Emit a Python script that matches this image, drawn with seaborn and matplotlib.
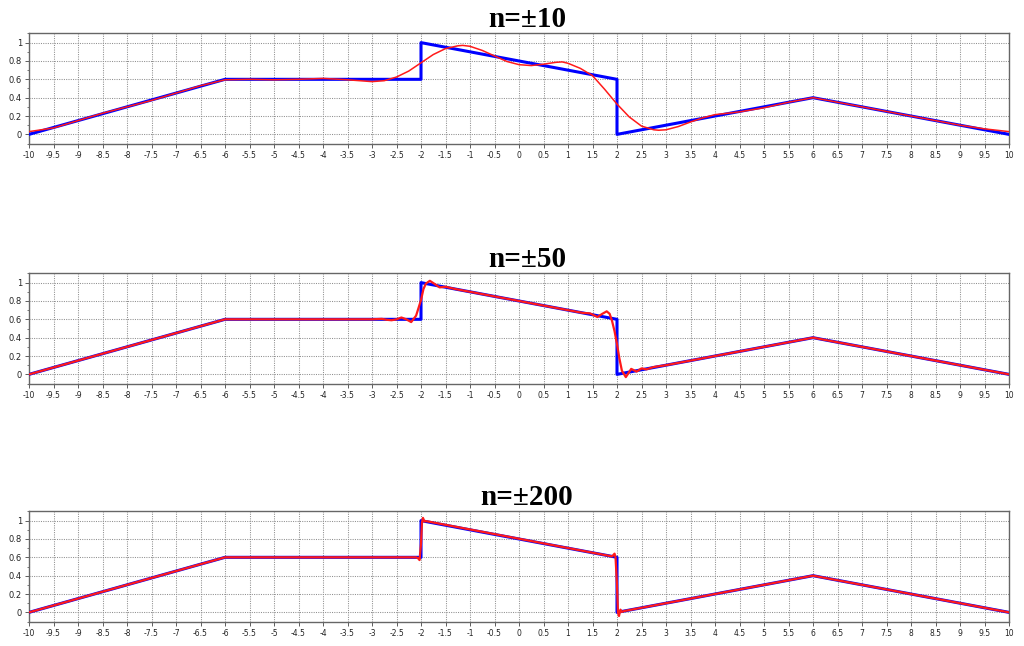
import matplotlib
matplotlib.use("Agg")
import matplotlib.pyplot as plt
import seaborn as sns
import numpy as np
import pandas as pd

# ---- data ----
blue_x = [-10, -6, -2, -2, 2, 2, 6, 10]
blue_y = [0, 0.6, 0.6, 1.0, 0.6, 0.0, 0.4, 0.0]

red10_x = [-10, -9.5, -9, -8.5, -8, -7.5, -7, -6.5, -6, -5.5, -5, -4.5, -4, -3.5, -3,
           -2.75, -2.5, -2.25, -2, -1.75, -1.5, -1.25, -1.15, -1, -0.75, -0.5, -0.25, 0,
           0.25, 0.5, 0.75, 0.88, 1, 1.25, 1.5, 1.75, 2, 2.25, 2.5, 2.75, 2.85, 3, 3.25,
           3.5, 3.75, 4, 4.5, 5, 5.5, 6, 6.5, 7, 7.5, 8, 8.5, 9, 9.5, 10]
red10_y = [0.03, 0.07, 0.15, 0.23, 0.30, 0.37, 0.45, 0.53, 0.595, 0.60, 0.595, 0.60, 0.61, 0.595, 0.575,
           0.585, 0.625, 0.69, 0.78, 0.87, 0.935, 0.965, 0.97, 0.96, 0.915, 0.855, 0.795, 0.76,
           0.75, 0.765, 0.785, 0.79, 0.775, 0.72, 0.64, 0.49, 0.33, 0.19, 0.09, 0.05, 0.045, 0.05, 0.085,
           0.135, 0.18, 0.215, 0.245, 0.29, 0.35, 0.40, 0.35, 0.30, 0.25, 0.20, 0.15, 0.10, 0.06, 0.03]

red50_x = [-10, -6, -3.0, -2.8, -2.7, -2.6, -2.5, -2.4, -2.3, -2.2, -2.1, -2.0, -1.95, -1.9,
           -1.82, -1.72, -1.62, -1.5, -1.3, -1.0, -0.5, 0, 0.5, 1.0, 1.3, 1.45, 1.6, 1.7, 1.79,
           1.85, 1.9, 1.95, 2.0, 2.05, 2.1, 2.18, 2.29, 2.4, 2.5, 2.6, 2.75, 3.0, 6, 10]
red50_y = [0.0, 0.6, 0.6, 0.605, 0.595, 0.59, 0.60, 0.62, 0.60, 0.57, 0.64, 0.81, 0.93, 0.99,
           1.02, 0.985, 0.948, 0.955, 0.93, 0.90, 0.85, 0.80, 0.75, 0.70, 0.67, 0.665, 0.625, 0.66, 0.687,
           0.66, 0.58, 0.47, 0.33, 0.17, 0.04, -0.03, 0.06, 0.03, 0.065, 0.055, 0.08, 0.10, 0.4, 0.0]

red200_x = [-10, -6, -2.1, -2.06, -2.03, -2.0, -1.98, -1.96, -1.93, -1.9, 1.9, 1.95, 1.97,
            2.0, 2.02, 2.04, 2.07, 2.1, 2.15, 6, 10]
red200_y = [0.0, 0.6, 0.6, 0.59, 0.57, 0.75, 0.98, 1.03, 0.99, 0.995, 0.61, 0.64, 0.60,
            0.30, 0.0, -0.04, 0.03, 0.005, 0.015, 0.4, 0.0]

titles = ["n=\u00b110", "n=\u00b150", "n=\u00b1200"]
x_ticks = [v / 2 for v in range(-20, 21)]
x_tick_labels = [("%g" % v) for v in x_ticks]
y_ticks = [0, 0.2, 0.4, 0.6, 0.8, 1.0]
y_tick_labels = ["0", "0.2", "0.4", "0.6", "0.8", "1"]

sns.set_theme(style="white")
plt.rcParams['font.family'] = ['DejaVu Sans']

fig = plt.figure(figsize=(10.24, 6.46), dpi=100)
rects = [
    [29/1024, 1 - 144/646, 980/1024, 111/646],
    [29/1024, 1 - 384/646, 980/1024, 111/646],
    [29/1024, 1 - 622/646, 980/1024, 111/646],
]
reds = [(red10_x, red10_y, 1.1), (red50_x, red50_y, 1.6), (red200_x, red200_y, 1.6)]

for rect, (rx, ry, rlw), title in zip(rects, reds, titles):
    ax = fig.add_axes(rect)
    dfb = pd.DataFrame({"x": blue_x, "y": blue_y})
    dfr = pd.DataFrame({"x": rx, "y": ry})
    sns.lineplot(data=dfb, x="x", y="y", ax=ax, sort=False, estimator=None,
                 color="#0000ff", lw=2.2, zorder=3)
    sns.lineplot(data=dfr, x="x", y="y", ax=ax, sort=False, estimator=None,
                 color="#ff1a1a", lw=rlw, zorder=4)
    ax.set_xlim(-10, 10)
    ax.set_ylim(-0.105, 1.105)
    ax.set_xticks(x_ticks)
    ax.set_xticklabels(x_tick_labels, fontsize=5.5, color="#222222")
    ax.set_yticks(y_ticks)
    ax.set_yticklabels(y_tick_labels, fontsize=6, color="#222222")
    ax.set_yticks([v / 10 for v in range(-1, 12)], minor=True)
    ax.tick_params(axis="both", which="major", direction="out", length=3, width=0.6,
                   color="#444444", pad=2, left=True, bottom=True)
    ax.tick_params(axis="y", which="minor", direction="out", length=1.5, width=0.5,
                   color="#444444", left=True)
    ax.grid(True, which="major", color="#8f8f8f", ls=(0, (1, 1.2)), lw=0.75)
    ax.set_xlabel("")
    ax.set_ylabel("")
    for s in ax.spines.values():
        s.set_visible(True)
        s.set_color("#666666")
        s.set_linewidth(1.0)
    ax.set_title(title, fontsize=21, fontweight="bold", family="Liberation Serif",
                 color="black", pad=4, x=0.508)

fig.savefig("out.png", dpi=100)
